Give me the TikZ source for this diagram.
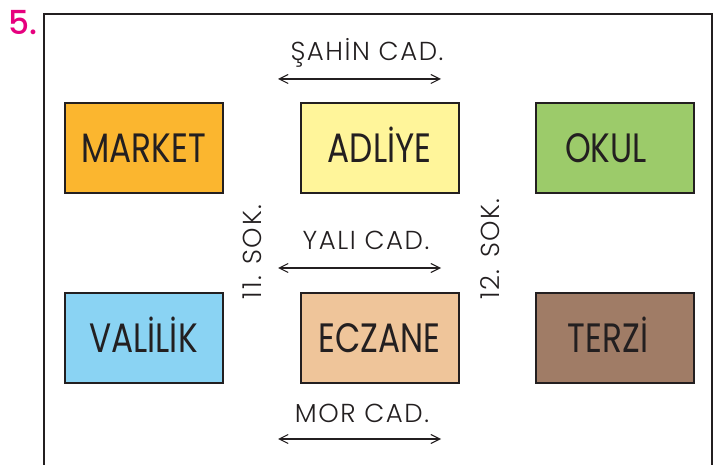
\documentclass[tikz,border=0pt]{standalone}
\usepackage{fontspec}
\usetikzlibrary{arrows.meta}
\setmainfont{Poppins}
\newfontfamily\boxfont[FakeStretch=0.8]{Poppins}
\newfontfamily\thinfont[LetterSpace=6]{Poppins Light}
\newfontfamily\numfont{Poppins Medium}
\definecolor{ink}{HTML}{231F20}
\definecolor{magentanum}{HTML}{E6007E}
\definecolor{cmarket}{HTML}{FBB62F}
\definecolor{cadliye}{HTML}{FFF59A}
\definecolor{cokul}{HTML}{9CCB6A}
\definecolor{cvalilik}{HTML}{8AD3F3}
\definecolor{ceczane}{HTML}{EFC59A}
\definecolor{cterzi}{HTML}{A07C66}
\tikzset{
  place/.style={draw=ink, line width=2pt, minimum width=158pt, minimum height=90pt,
    inner sep=0pt, text height=29pt, text depth=0pt, text=ink, font=\boxfont\fontsize{41}{41}\selectfont},
  streetlabel/.style={text=ink, inner sep=0pt, text height=18pt, text depth=0pt, font=\thinfont\fontsize{26}{26}\selectfont},
  streetarrow/.style={draw=ink, line width=1.1pt, {Straight Barb[length=9pt,width=9pt]}-{Straight Barb[length=9pt,width=9pt]}},
}
\begin{document}
\begin{tikzpicture}[x=1pt,y=-1pt]
\useasboundingbox (0,0) rectangle (726,465);
% frame
\coordinate (fbl) at (44,466);
\coordinate (ftl) at (44,14);
\coordinate (ftr) at (712,14);
\coordinate (fbr) at (712,466);
\draw[ink, line width=2.2pt] (fbl) -- (ftl) -- (ftr) -- (fbr);
% number
\node[text=magentanum, inner sep=0pt, font=\numfont\fontsize{33}{33}\selectfont] (num) at (23,23) {5.};
% places
\node[place, fill=cmarket] (market) at (143.5,148.5) {MARKET};
\node[place, fill=cadliye] (adliye) at (379.5,148.5) {ADLİYE};
\node[place, fill=cokul] (okul) at (615,148.5) {\hspace*{-18pt}OKUL};
\node[place, fill=cvalilik] (valilik) at (143.5,338) {VALİLİK};
\node[place, fill=ceczane] (eczane) at (379.5,338) {ECZANE};
\node[place, fill=cterzi] (terzi) at (615,338) {\hspace*{-14pt}TERZİ};
% streets
\node[streetlabel] (sahin) at (367,52) {ŞAHİN CAD.};
\node[streetlabel] (yali) at (366,241) {YALI CAD.};
\node[streetlabel] (mor) at (362,413) {MOR CAD.};
\node[streetlabel, rotate=90] (sok11) at (252,252) {11. SOK.};
\node[streetlabel, rotate=90] (sok12) at (490,249) {12. SOK.};
\coordinate (sa) at (278,79);
\coordinate (sb) at (441,79);
\coordinate (ya) at (278,268);
\coordinate (yb) at (441,268);
\coordinate (ma) at (278,439);
\coordinate (mb) at (441,439);
\draw[streetarrow] (sa) -- (sb);
\draw[streetarrow] (ya) -- (yb);
\draw[streetarrow] (ma) -- (mb);
\end{tikzpicture}
\end{document}
